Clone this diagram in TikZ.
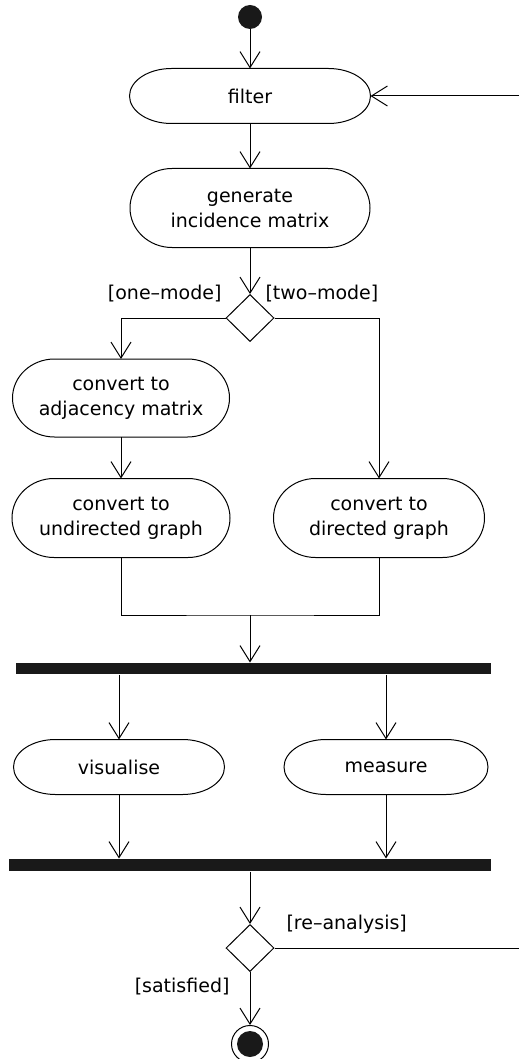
\documentclass[tikz,border=0pt]{standalone}
\usepackage{fontspec}
\setmainfont{DejaVu Sans}
\usepackage{tikz}
\usetikzlibrary{arrows.meta, shapes.geometric, calc, positioning}

\begin{document}
\begin{tikzpicture}[x=0.5pt, y=-0.5pt, line width=0.5pt,
    action/.style={rectangle, inner sep=0pt, align=center, font=\fontsize{9.5}{12.5}\selectfont,
      append after command={\pgfextra{\draw[x=1pt, y=1pt]
        let \p1=(\tikzlastnode.north), \p2=(\tikzlastnode.south), \n1={(\y1-\y2)/2} in
        ([xshift=21pt]\tikzlastnode.north west) -- ([xshift=-21pt]\tikzlastnode.north east)
        arc[start angle=90, end angle=-90, x radius=21pt, y radius=\n1]
        -- ([xshift=21pt]\tikzlastnode.south west)
        arc[start angle=270, end angle=90, x radius=21pt, y radius=\n1] -- cycle;}}},
    decision/.style={diamond, draw, inner sep=0pt, minimum width=24pt, minimum height=23.5pt},
    syncbar/.style={rectangle, fill=black!90, inner sep=0pt},
    startdot/.style={circle, fill=black!90, inner sep=0pt, minimum size=12pt},
    stopring/.style={circle, draw, inner sep=0pt, minimum size=18.5pt},
    guard/.style={inner sep=0pt, font=\fontsize{9.5}{12.5}\selectfont},
    flow/.style={-{Straight Barb[length=8pt, width=10pt]}}]
    \useasboundingbox (0,0) rectangle (519,1059);
    \node[startdot] (start) at (250,17) {};
    \node[action, minimum width=120pt, minimum height=27pt] (filter) at (250,96) {filter};
    \node[action, minimum width=119.5pt, minimum height=39pt] (gen) at (250,208) {generate\\incidence matrix};
    \node[decision] (dec1) at (250,318) {};
    \node[action, minimum width=108pt, minimum height=38.5pt] (adj) at (121,398) {convert to\\adjacency matrix};
    \node[action, minimum width=108.5pt, minimum height=39pt] (undir) at (121,518) {convert to\\undirected graph};
    \node[action, minimum width=105pt, minimum height=39pt] (dir) at (379,518) {convert to\\directed graph};
    \coordinate (merge) at (250,615);
    \node[syncbar, minimum width=237.5pt, minimum height=5.5pt] (bar1) at (253,668.5) {};
    \node[action, minimum width=105pt, minimum height=27pt] (vis) at (119,767) {visualise};
    \node[action, minimum width=101.5pt, minimum height=27pt] (meas) at (386,767) {measure};
    \node[syncbar, minimum width=241pt, minimum height=6pt] (bar2) at (250,865) {};
    \node[decision] (dec2) at (250,948) {};
    \node[stopring] (stop) at (250,1044) {};
    \node[startdot, minimum size=13pt] (stopdot) at (stop) {};
    \coordinate (loopin) at (519,96);
    \coordinate (loopout) at (519,948);

    \node[guard] (onemode) [left=14pt of dec1.north] {[one--mode]};
    \node[guard] (twomode) [right=7.5pt of dec1.north] {[two--mode]};
    \node[guard] (reanalysis) [right=18pt of dec2.north] {[re--analysis]};
    \node[guard] (satisfied) [left=10pt of dec2.south, yshift=-7.5pt] {[satisfied]};

    \path[flow] (start) edge (filter)
                (filter) edge (gen)
                (gen) edge (dec1)
                (adj) edge (undir)
                (dec2) edge (stop)
                (loopin) edge (filter);
    \draw[flow] (dec1) -| (adj);
    \draw[flow] (dec1) -| (dir);
    \draw (undir) |- (merge) -| (dir);
    \draw[flow] (merge) -- (merge |- bar1.north);
    \draw[flow] (bar1.south -| vis) -- (vis);
    \draw[flow] (bar1.south -| meas) -- (meas);
    \draw[flow] (vis) -- (vis |- bar2.north);
    \draw[flow] (meas) -- (meas |- bar2.north);
    \draw[flow] (bar2.south -| dec2) -- (dec2);
    \draw (dec2) -- (loopout);
\end{tikzpicture}
\end{document}
